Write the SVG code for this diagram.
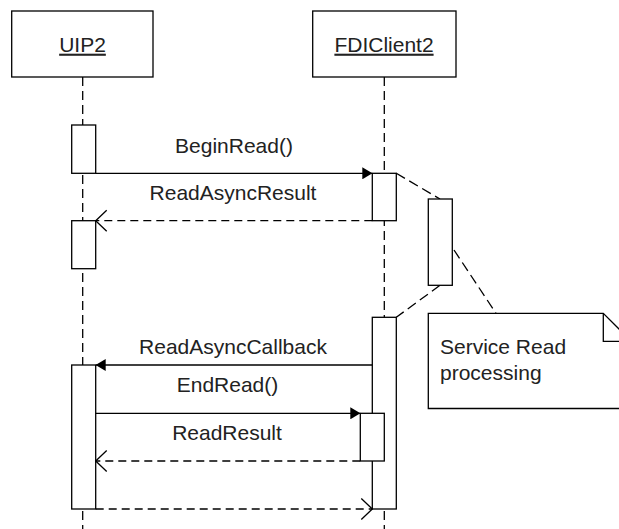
<svg xmlns="http://www.w3.org/2000/svg" width="619" height="529" viewBox="0 0 619 529">
  <style>
    .box { fill: #fff; stroke: #000; stroke-width: 1.3; }
    .life { fill: none; stroke: #000; stroke-width: 1.3; stroke-dasharray: 9 5; }
    .msg { fill: none; stroke: #000; stroke-width: 1.3; }
    .ret { fill: none; stroke: #000; stroke-width: 1.3; stroke-dasharray: 8 5; }
    .link { fill: none; stroke: #000; stroke-width: 1.3; stroke-dasharray: 10 5; }
    .label { font-family: "Liberation Sans", Arial, sans-serif; font-size: 21px; fill: #222; }
    .mid { text-anchor: middle; }
    .ul { text-decoration: underline; }
  </style>
  <defs>
    <marker id="filled" markerUnits="userSpaceOnUse" viewBox="0 0 10 12" refX="10" refY="6" markerWidth="10" markerHeight="12" orient="auto">
      <path d="M0,0 L10,6 L0,12 Z" fill="#000"/>
    </marker>
    <marker id="open" markerUnits="userSpaceOnUse" viewBox="0 0 13 24" refX="12" refY="12" markerWidth="13" markerHeight="24" orient="auto">
      <path d="M1,1.5 L12,12 L1,22.5" fill="none" stroke="#000" stroke-width="1.3"/>
    </marker>
  </defs>

  <rect width="619" height="529" fill="#fff"/>

  <!-- lifelines -->
  <g id="lifelines">
    <line class="life" x1="82.7" y1="77" x2="82.7" y2="529"/>
    <line class="life" x1="384.3" y1="77" x2="384.3" y2="529"/>
  </g>

  <!-- participant heads -->
  <g id="uip2">
    <rect class="box" x="11.7" y="11" width="141.3" height="66"/>
    <text class="label mid ul" x="82.5" y="51.7">UIP2</text>
  </g>
  <g id="fdiclient2">
    <rect class="box" x="312.7" y="11" width="143.3" height="66"/>
    <text class="label mid ul" x="384" y="51.7">FDIClient2</text>
  </g>

  <!-- links between the activations and the note -->
  <g id="links">
    <line class="link" x1="396.3" y1="173.3" x2="440" y2="199"/>
    <line class="link" x1="440" y1="285.3" x2="396.3" y2="317.3"/>
    <line class="link" x1="454" y1="250" x2="496" y2="313.3" stroke-dasharray="12 6"/>
  </g>

  <!-- activation bars -->
  <g id="uip2-activations">
    <rect class="box" x="71.7" y="125" width="24" height="48.3"/>
    <rect class="box" x="71.7" y="220.7" width="24" height="48"/>
    <rect class="box" x="71.7" y="365" width="24" height="144"/>
  </g>
  <g id="fdiclient2-activations">
    <rect class="box" x="372.3" y="173.3" width="24" height="47.4"/>
    <rect class="box" x="372.3" y="317.3" width="24" height="191.7"/>
    <rect class="box" x="360.3" y="413.3" width="24" height="47.7"/>
  </g>
  <g id="service-activation">
    <rect class="box" x="428.3" y="199" width="24" height="86.3"/>
  </g>

  <!-- note -->
  <g id="note">
    <path class="box" d="M428.3,313.3 H603.3 L631.3,341.3 V408.5 H428.3 Z"/>
    <path d="M603.3,313.3 V341.3 H631.3" fill="none" stroke="#000" stroke-width="1.3"/>
    <text class="label" x="440" y="354">Service Read</text>
    <text class="label" x="440" y="380">processing</text>
  </g>

  <!-- messages -->
  <g id="messages">
    <line class="msg" x1="95.7" y1="173.3" x2="372.3" y2="173.3" marker-end="url(#filled)"/>
    <text class="label mid" x="234" y="152.7">BeginRead()</text>

    <line class="ret" x1="372.3" y1="220.7" x2="95.7" y2="220.7" marker-end="url(#open)"/>
    <text class="label mid" x="233" y="200">ReadAsyncResult</text>

    <line class="msg" x1="372.3" y1="365" x2="95.7" y2="365" marker-end="url(#filled)"/>
    <text class="label mid" x="233" y="354">ReadAsyncCallback</text>

    <line class="msg" x1="95.7" y1="413.3" x2="360.3" y2="413.3" marker-end="url(#filled)"/>
    <text class="label mid" x="227.5" y="391.7">EndRead()</text>

    <line class="ret" x1="360.3" y1="461" x2="95.7" y2="461" marker-end="url(#open)"/>
    <text class="label mid" x="227" y="440">ReadResult</text>

    <line class="ret" x1="95.7" y1="509" x2="372.3" y2="509" marker-end="url(#open)"/>
  </g>
</svg>
